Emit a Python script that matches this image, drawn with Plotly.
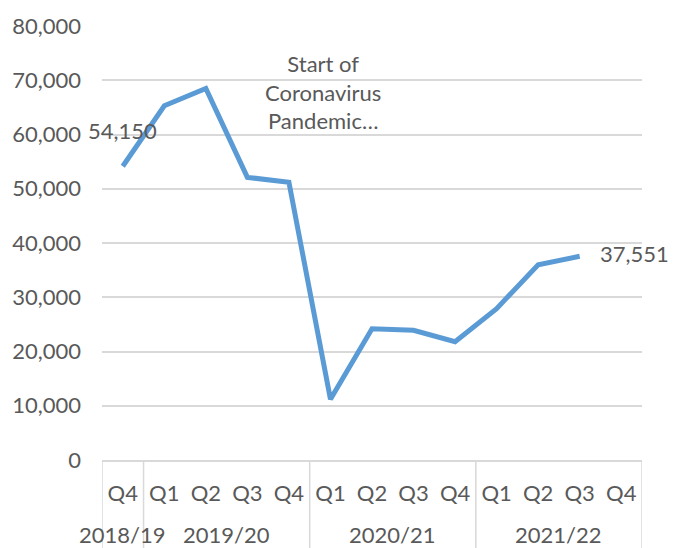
import plotly.graph_objects as go

# Financial years and quarters
years = ["2018/19"] + ["2019/20"] * 4 + ["2020/21"] * 4 + ["2021/22"] * 4
quarters = ["Q4", "Q1", "Q2", "Q3", "Q4", "Q1", "Q2", "Q3", "Q4", "Q1", "Q2", "Q3", "Q4"]

# Quarterly totals (latest quarter not yet reported)
values = [54150, 65300, 68500, 52100, 51200, 11200, 24200, 23900, 21800,
          27900, 36000, 37551, None]

positions = list(range(len(quarters)))

font_family = "Lato, 'Open Sans', sans-serif"
grey = "#595959"
rule = "#d9d9d9"
fsize = 22

fig = go.Figure()
fig.add_trace(go.Scatter(
    x=positions,
    y=values,
    mode="lines",
    line=dict(color="#5b9bd5", width=5),
    showlegend=False,
    hoverinfo="x+y",
))

# Value labels on the first and last reported quarters
first = 0
last = max(i for i, v in enumerate(values) if v is not None)
fig.add_annotation(x=positions[first], y=values[first], text=f"{values[first]:,}",
                   showarrow=False, yshift=36, xanchor="center", yanchor="middle")
fig.add_annotation(x=positions[last], y=values[last], text=f"{values[last]:,}",
                   showarrow=False, xshift=18, yshift=3, xanchor="left", yanchor="middle")

# Note on the first pandemic quarter
fig.add_annotation(x=4.82, y=67900, text="Start of<br>Coronavirus<br>Pandemic…",
                   showarrow=False, align="center", xanchor="center", yanchor="middle")

# Year group labels and dividers beneath the quarter labels
groups = []
for i, y in enumerate(years):
    if groups and groups[-1][0] == y:
        groups[-1][2] = i
    else:
        groups.append([y, i, i])
for name, start, end in groups:
    fig.add_annotation(x=(start + end) / 2, y=-0.172, xref="x", yref="paper",
                       text=name, showarrow=False, yanchor="middle")
edges = [groups[0][1] - 0.5] + [end + 0.5 for _, _, end in groups]
for e in edges:
    fig.add_shape(type="line", xref="x", yref="paper", x0=e, x1=e, y0=0, y1=-0.21,
                  line=dict(color=rule, width=1.5))

fig.update_layout(
    width=676, height=548,
    margin=dict(l=102, r=34, t=20, b=88),
    paper_bgcolor="white",
    plot_bgcolor="white",
    font=dict(family=font_family, size=fsize, color=grey),
)
fig.update_yaxes(
    range=[0, 80000],
    dtick=10000,
    tickformat=",d",
    showgrid=True,
    gridcolor=rule,
    gridwidth=1.5,
    zeroline=False,
    showline=False,
    ticklabelstandoff=20,
)
fig.update_xaxes(
    range=[-0.5, len(quarters) - 0.5],
    tickmode="array",
    tickvals=positions,
    ticktext=quarters,
    showgrid=False,
    zeroline=False,
    showline=True,
    linecolor=rule,
    linewidth=1.5,
    ticks="",
    ticklabelstandoff=13,
)

fig.write_html("out.html")
